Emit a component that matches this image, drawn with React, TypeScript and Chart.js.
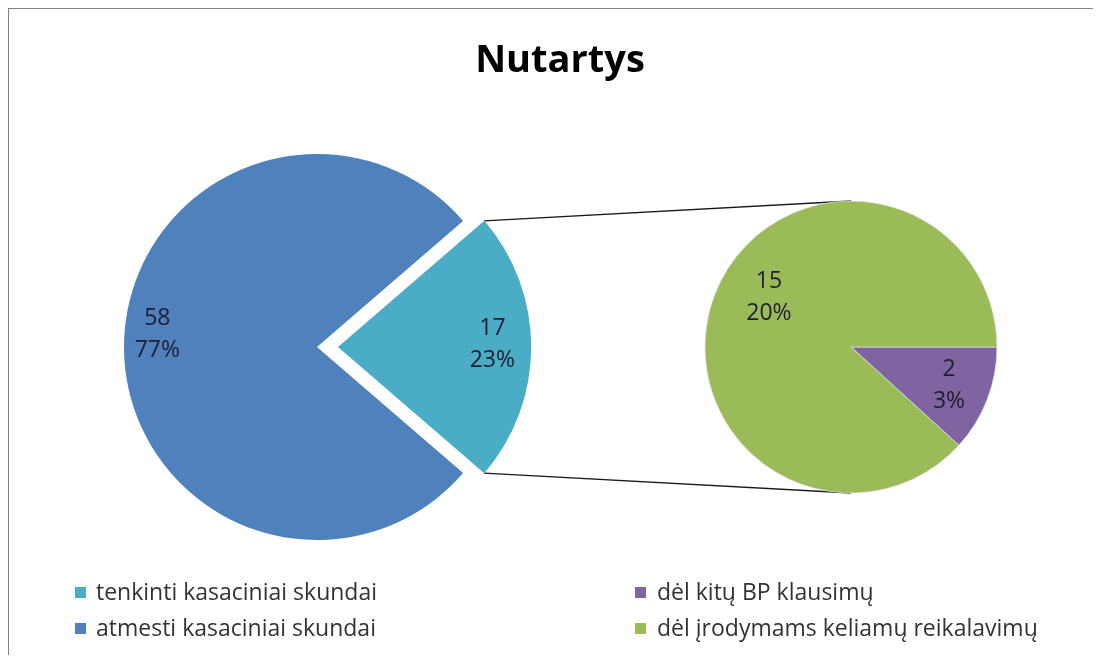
import React, { useEffect, useRef } from "react";
import { Chart, registerables } from "chart.js";

Chart.register(...registerables);

// ---- data ----
const TITLE = "Nutartys";
const mainLabels = ["tenkinti kasaciniai skundai", "atmesti kasaciniai skundai"];
const mainValues = [17, 58];
const mainColors = ["#4BACC6", "#4F81BD"];
const subLabels = ["dėl kitų BP klausimų", "dėl įrodymams keliamų reikalavimų"];
const subValues = [2, 15];
const subColors = ["#8064A2", "#9BBB59"];

// ---- layout / style ----
const PAD = 9; // page offset of container padding box
const MAIN_CX = 317;
const MAIN_CY = 347;
const MAIN_R = 193;
const MAIN_SIZE = 460;
const EXPLODE = 21;
const SUB_CX = 851;
const SUB_CY = 347;
const SUB_R = 146;
const SUB_SIZE = 320;
const LABEL_FONT = '23px "Open Sans"';
const LABEL_LINE = 32;
const LABEL_COLOR = "#1e1e30";
const mainLabelFrac = [0.8, 0.83];
const mainLabelShift = [-1, 4.6];
const subLabelFrac = [0.72, 0.655];
const subLabelShift = [0, 9.7];

const GRAND_TOTAL = mainValues.reduce((a, b) => a + b, 0);

function makeLabelPlugin(frac: number[], shift: number[]) {
  return {
    id: "sliceLabels",
    afterDatasetsDraw(chart: any) {
      const meta = chart.getDatasetMeta(0);
      const ds = chart.data.datasets[0];
      const ctx = chart.ctx;
      meta.data.forEach((arc: any, i: number) => {
        const p = arc.getProps(["x", "y", "startAngle", "endAngle", "outerRadius"], true);
        const mid = (p.startAngle + p.endAngle) / 2;
        const off = (Array.isArray(ds.offset) ? ds.offset[i] : 0) / 4;
        const cx = p.x + Math.cos(mid) * off;
        const cy = p.y + Math.sin(mid) * off;
        const a = mid + (shift[i] * Math.PI) / 180;
        const r = p.outerRadius * frac[i];
        const x = cx + Math.cos(a) * r;
        const y = cy + Math.sin(a) * r;
        const v = ds.data[i];
        const pct = Math.round((v / GRAND_TOTAL) * 100) + "%";
        ctx.save();
        ctx.font = LABEL_FONT;
        ctx.fillStyle = LABEL_COLOR;
        ctx.textAlign = "center";
        ctx.textBaseline = "middle";
        ctx.fillText(String(v), x, y - LABEL_LINE / 2);
        ctx.fillText(pct, x, y + LABEL_LINE / 2);
        ctx.restore();
      });
    },
  };
}

export default function App() {
  const mainRef = useRef<HTMLCanvasElement>(null);
  const subRef = useRef<HTMLCanvasElement>(null);
  const lineRef = useRef<HTMLCanvasElement>(null);

  useEffect(() => {
    const mainStart = 90 - (180 * mainValues[0]) / GRAND_TOTAL;
    const main = new Chart(mainRef.current as HTMLCanvasElement, {
      type: "pie",
      data: {
        labels: mainLabels,
        datasets: [
          {
            data: mainValues,
            backgroundColor: mainColors,
            borderWidth: 0,
            offset: [EXPLODE * 4, 0],
            hoverOffset: 0,
          } as any,
        ],
      },
      options: {
        responsive: false,
        animation: false,
        events: [],
        rotation: mainStart,
        radius: MAIN_R,
        layout: { padding: 0 },
        plugins: { legend: { display: false }, tooltip: { enabled: false }, title: { display: false } },
      } as any,
      plugins: [makeLabelPlugin(mainLabelFrac, mainLabelShift)],
    });

    const sub = new Chart(subRef.current as HTMLCanvasElement, {
      type: "pie",
      data: {
        labels: subLabels,
        datasets: [
          {
            data: subValues,
            backgroundColor: subColors,
            borderWidth: 1,
            borderColor: "rgba(230,230,230,0.7)",
            hoverOffset: 0,
          } as any,
        ],
      },
      options: {
        responsive: false,
        animation: false,
        events: [],
        rotation: 90,
        radius: SUB_R,
        layout: { padding: 0 },
        plugins: { legend: { display: false }, tooltip: { enabled: false }, title: { display: false } },
      } as any,
      plugins: [makeLabelPlugin(subLabelFrac, subLabelShift)],
    });

    // connector lines derived from the two charts' arc geometry
    const lc = lineRef.current as HTMLCanvasElement;
    const ctx = lc.getContext("2d") as CanvasRenderingContext2D;
    ctx.clearRect(0, 0, lc.width, lc.height);
    const mArc: any = main.getDatasetMeta(0).data[0];
    const mp = mArc.getProps(["x", "y", "startAngle", "endAngle", "outerRadius"], true);
    const mid = (mp.startAngle + mp.endAngle) / 2;
    const off = EXPLODE;
    const mLeft = MAIN_CX - MAIN_SIZE / 2 - PAD;
    const mTop = MAIN_CY - MAIN_SIZE / 2 - PAD;
    const ox = mLeft + mp.x + Math.cos(mid) * off;
    const oy = mTop + mp.y + Math.sin(mid) * off;
    const p1 = [ox + Math.cos(mp.startAngle) * mp.outerRadius, oy + Math.sin(mp.startAngle) * mp.outerRadius];
    const p2 = [ox + Math.cos(mp.endAngle) * mp.outerRadius, oy + Math.sin(mp.endAngle) * mp.outerRadius];
    const sArc: any = sub.getDatasetMeta(0).data[0];
    const sp = sArc.getProps(["x", "y", "outerRadius"], true);
    const sLeft = SUB_CX - SUB_SIZE / 2 - PAD;
    const sTop = SUB_CY - SUB_SIZE / 2 - PAD;
    const q1 = [sLeft + sp.x, sTop + sp.y - sp.outerRadius];
    const q2 = [sLeft + sp.x, sTop + sp.y + sp.outerRadius];
    ctx.strokeStyle = "#1a1a1a";
    ctx.lineWidth = 1.3;
    ctx.beginPath();
    ctx.moveTo(p1[0], p1[1]);
    ctx.lineTo(q1[0], q1[1]);
    ctx.moveTo(p2[0], p2[1]);
    ctx.lineTo(q2[0], q2[1]);
    ctx.stroke();

    return () => {
      main.destroy();
      sub.destroy();
    };
  }, []);

  const legendText: React.CSSProperties = {
    position: "absolute",
    font: '23px "Open Sans"',
    lineHeight: "36px",
    color: "#333",
    whiteSpace: "nowrap",
  };
  const sq = (color: string, left: number, top: number): React.CSSProperties => ({
    position: "absolute",
    left,
    top,
    width: 11,
    height: 11,
    background: color,
  });

  return (
    <div
      style={{
        position: "relative",
        width: 1088,
        height: 646,
        borderTop: "1px solid #808080",
        borderLeft: "1px solid #808080",
        borderRight: "1px solid #a0a0a0",
        background: "#fff",
        overflow: "hidden",
        fontFamily: '"Open Sans", sans-serif',
      }}
    >
      <canvas
        ref={lineRef}
        width={1088}
        height={646}
        style={{ position: "absolute", left: 0, top: 0 }}
      />
      <div
        style={{
          position: "absolute",
          left: 551,
          top: 29,
          transform: "translateX(-50%)",
          font: 'bold 38px "Open Sans"',
          lineHeight: "38px",
          color: "#000",
          whiteSpace: "nowrap",
        }}
      >
        {TITLE}
      </div>
      <canvas
        ref={mainRef}
        width={MAIN_SIZE}
        height={MAIN_SIZE}
        style={{ position: "absolute", left: MAIN_CX - MAIN_SIZE / 2 - PAD, top: MAIN_CY - MAIN_SIZE / 2 - PAD }}
      />
      <canvas
        ref={subRef}
        width={SUB_SIZE}
        height={SUB_SIZE}
        style={{ position: "absolute", left: SUB_CX - SUB_SIZE / 2 - PAD, top: SUB_CY - SUB_SIZE / 2 - PAD }}
      />
      {/* legend: left column = main pie, right column = secondary pie */}
      {mainLabels.map((l, i) => (
        <React.Fragment key={"m" + i}>
          <div style={sq(mainColors[i], 66, 578 + i * 36)} />
          <div style={{ ...legendText, left: 87, top: 564 + i * 36 }}>{l}</div>
        </React.Fragment>
      ))}
      {subLabels.map((l, i) => (
        <React.Fragment key={"s" + i}>
          <div style={sq(subColors[i], 626, 578 + i * 36)} />
          <div style={{ ...legendText, left: 648, top: 564 + i * 36 }}>{l}</div>
        </React.Fragment>
      ))}
    </div>
  );
}
